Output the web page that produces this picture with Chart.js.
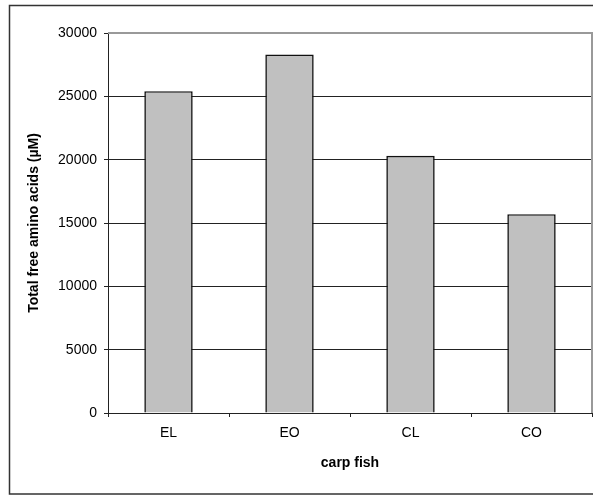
<!DOCTYPE html>
<html>
<head>
<meta charset="utf-8">
<script src="https://cdn.jsdelivr.net/npm/chart.js@4/dist/chart.umd.min.js"></script>
<style>
  html, body { margin: 0; padding: 0; background: #fff; }
  #wrap { width: 593px; height: 495px; position: relative; }
</style>
</head>
<body>
<div id="wrap"><canvas id="c" width="593" height="495"></canvas></div>
<script>
const categories = ["EL", "EO", "CL", "CO"];
const totalFreeAminoAcids = [25400, 28300, 20300, 15700];
const yTicks = [0, 5000, 10000, 15000, 20000, 25000, 30000];
const xTitle = "carp fish";
const yTitle = "Total free amino acids (\u00b5M)";

const FONT = "'Liberation Sans', Arial, sans-serif";

const framePlugin = {
  id: 'frame',
  beforeDraw(chart) {
    const ctx = chart.ctx;
    ctx.save();
    ctx.fillStyle = '#fff';
    ctx.fillRect(0, 0, chart.width, chart.height);
    ctx.strokeStyle = '#333';
    ctx.lineWidth = 1.5;
    ctx.strokeRect(9.5, 5.5, 620, 488.5);
    ctx.restore();
  },
  afterDatasetsDraw(chart) {
    const a = chart.chartArea;
    const ctx = chart.ctx;
    ctx.save();
    ctx.strokeStyle = '#999';
    ctx.lineWidth = 2;
    ctx.beginPath();
    ctx.moveTo(a.left, a.top);
    ctx.lineTo(a.right, a.top);
    ctx.lineTo(a.right, a.bottom);
    ctx.stroke();
    ctx.restore();
  }
};

new Chart(document.getElementById('c'), {
  type: 'bar',
  data: {
    labels: categories,
    datasets: [{
      data: totalFreeAminoAcids,
      backgroundColor: '#C0C0C0',
      borderColor: '#111',
      borderWidth: 1.6,
      categoryPercentage: 1,
      barPercentage: 0.4
    }]
  },
  options: {
    responsive: false,
    animation: false,
    devicePixelRatio: 1,
    layout: { padding: { left: 0, top: 33, right: 1, bottom: 0 } },
    plugins: { legend: { display: false }, tooltip: { enabled: false } },
    scales: {
      x: {
        afterFit(s) { s.height = 82; },
        grid: { offset: true, drawOnChartArea: false, drawTicks: true, tickLength: 4, color: '#222', lineWidth: 1 },
        border: { display: true, color: '#222', width: 1 },
        ticks: { color: '#000', font: { family: FONT, size: 14 }, padding: 8 },
        title: { display: true, text: xTitle, color: '#000', font: { family: FONT, size: 14, weight: 'bold' }, padding: { top: 0, bottom: 23 } }
      },
      y: {
        min: 0, max: 30000,
        afterFit(s) { s.width = 108; },
        afterBuildTicks(s) { s.ticks = yTicks.map(v => ({ value: v })); },
        grid: { drawOnChartArea: true, drawTicks: true, tickLength: 4, color: '#222', lineWidth: 1 },
        border: { display: true, color: '#222', width: 1 },
        ticks: { color: '#000', font: { family: FONT, size: 14 }, padding: 7, callback: v => String(v) },
        title: { display: true, text: yTitle, color: '#000', font: { family: FONT, size: 14, weight: 'bold' }, padding: { top: 26, bottom: 0 } }
      }
    }
  },
  plugins: [framePlugin]
});
</script>
</body>
</html>
